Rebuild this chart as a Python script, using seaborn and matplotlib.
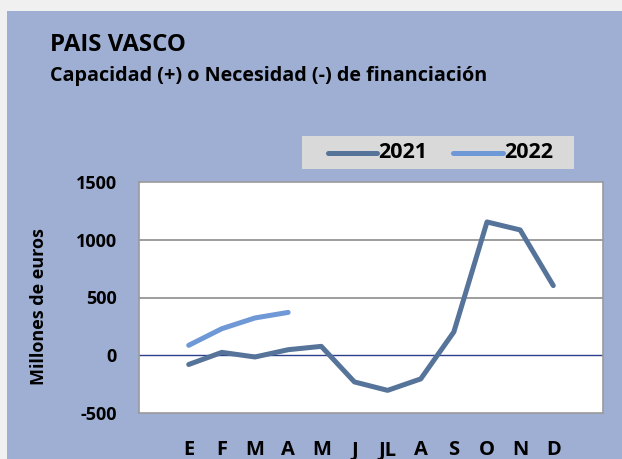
import matplotlib
matplotlib.use("Agg")
import matplotlib.pyplot as plt
from matplotlib.patches import Rectangle
import seaborn as sns
import pandas as pd

months = ["E", "F", "M", "A", "M", "J", "JL", "A", "S", "O", "N", "D"]
values_2021 = [-80, 25, -15, 48, 77, -231, -304, -205, 202, 1154, 1085, 603]
values_2022 = [86, 230, 323, 371]
yticks = [-500, 0, 500, 1000, 1500]

color_2021 = "#56739a"
color_2022 = "#6f98d6"
panel_color = "#9fafd3"

rows = [{"mes": i, "valor": v, "serie": "2021"} for i, v in enumerate(values_2021)]
rows += [{"mes": i, "valor": v, "serie": "2022"} for i, v in enumerate(values_2022)]
df = pd.DataFrame(rows)

sns.set_theme(style="white")
plt.rcParams["font.family"] = ["Open Sans", "DejaVu Sans"]

fig = plt.figure(figsize=(6.22, 4.59), dpi=100)
fig.patch.set_facecolor("#f0f0f0")
fig.patches.append(Rectangle((7 / 622, 0), 1, (459 - 11) / 459,
                             transform=fig.transFigure, facecolor=panel_color,
                             edgecolor="none", zorder=-5))

ax = fig.add_axes([139 / 622, 1 - 413 / 459, (603 - 139) / 622, (413 - 182) / 459])
ax.set_zorder(5)
ax.set_facecolor("white")

sns.lineplot(data=df, x="mes", y="valor", hue="serie",
             palette={"2021": color_2021, "2022": color_2022},
             linewidth=3.6, ax=ax, legend=False, zorder=3)
for ln in ax.lines:
    ln.set_solid_capstyle("round")

ax.set_xlim(-1.5, 12.5)
ax.set_ylim(-500, 1500)
ax.set_yticks(yticks)
ax.set_yticklabels([str(t) for t in yticks], fontsize=13, fontweight="bold")
ax.set_xticks(range(len(months)))
ax.set_xticklabels(months, fontsize=14.5, fontweight="bold")
ax.tick_params(axis="y", length=0, pad=16)
ax.tick_params(axis="x", length=0, pad=19.5)
for lbl in ax.get_xticklabels() + ax.get_yticklabels():
    lbl.set_color("black")

for g in (500, 1000):
    ax.axhline(g, color="#8c8c8c", linewidth=1.2, zorder=1)
ax.axhline(0, color="#2c3f8c", linewidth=1.0, zorder=2)

for side in ax.spines.values():
    side.set_color("#9a9a9a")
    side.set_linewidth(1.2)

ax.set_xlabel("")
ax.set_ylabel("Millones de euros", fontsize=13, fontweight="bold", color="black")
ax.yaxis.set_label_coords(-(139 - 48) / 464, 0.461)

fig.text(50 / 622, 1 - 45 / 459, "PAIS VASCO", fontsize=17.3, fontweight="bold",
         va="center", ha="left", color="black")
fig.text(50 / 622, 1 - 76 / 459, "Capacidad (+) o Necesidad (-) de financiación",
         fontsize=14.2, fontweight="bold", va="center", ha="left", color="black")

# legend box
fig.patches.append(Rectangle((302 / 622, 1 - 169 / 459), (574 - 302) / 622, 33 / 459,
                             transform=fig.transFigure, facecolor="#d9d9d9",
                             edgecolor="none", zorder=1))
ly = 1 - 153 / 459
for x0, x1, tx, col, name in [(328, 377, 378, color_2021, "2021"),
                               (453, 503, 504, color_2022, "2022")]:
    fig.add_artist(plt.Line2D([x0 / 622, x1 / 622], [ly, ly], transform=fig.transFigure,
                              color=col, linewidth=3.6, solid_capstyle="round", zorder=2))
    fig.text(tx / 622, ly, name, fontsize=15.5, fontweight="bold", va="center",
             ha="left", color="black", zorder=2)

fig.savefig("out.png", dpi=100, facecolor=fig.get_facecolor())
